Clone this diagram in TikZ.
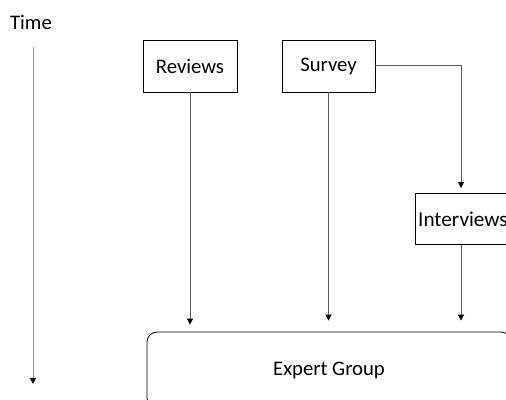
\documentclass[tikz,border=0pt]{standalone}
\usepackage{fontspec}
\setmainfont{Carlito}
\usetikzlibrary{arrows.meta}
\tikzset{
  stagebox/.style={draw=black, line width=0.8pt, inner sep=0pt, font=\fontsize{20.7}{24}\selectfont},
  flow/.style={draw=black!65, line width=0.8pt, -{Triangle[width=6pt,length=6pt,fill=black,color=black]}},
  timeaxis/.style={draw=black!40, line width=1pt, -{Triangle[width=6pt,length=6pt,fill=black,color=black]}},
  label/.style={font=\fontsize{20.7}{24}\selectfont, inner sep=0pt}
}
\begin{document}
\begin{tikzpicture}[x=1pt,y=-1pt]
\useasboundingbox (0,0) rectangle (506,399);
\clip (0,0) rectangle (506,399);
\fill[white] (0,0) rectangle (506,399);

% time axis
\node[label] (time) at (31,22) {Time};
\coordinate (t0) at (33,47);
\coordinate (t1) at (33,384);
\draw[timeaxis] (t0) -- (t1);

% sources
\node[stagebox, minimum width=94pt, minimum height=52pt] (reviews) at (190,66) {Reviews};
\node[stagebox, minimum width=93pt, minimum height=52pt] (survey) at (328.5,66) {Survey};
\node[stagebox, anchor=north west, text width=140pt, align=left, inner xsep=2.2pt, minimum height=51pt] (interviews) at (415,193) {\kern0.6pt\fontsize{21.2}{24}\selectfont Interviews};

% expert group
\node[stagebox, rounded corners=10pt, minimum width=364pt, minimum height=76pt] (expert) at (329,370) {Expert Group};

% connectors
\coordinate (bend) at (461,65);
\draw[flow, shorten >=5pt] (survey.east |- bend) -- (bend) -- (bend |- interviews.north);
\draw[flow] (reviews.south) -- ([yshift=7pt]reviews.south |- expert.north);
\draw[flow] (survey.south) -- ([yshift=11pt]survey.south |- expert.north);
\draw[flow] (bend |- interviews.south) -- ([yshift=11pt]bend |- expert.north);
\end{tikzpicture}
\end{document}
